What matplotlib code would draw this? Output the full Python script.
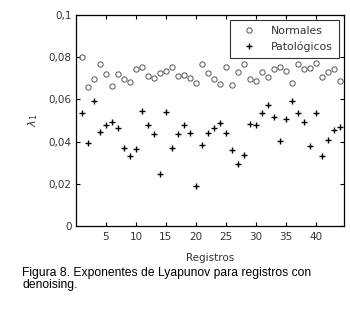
import matplotlib.pyplot as plt
import numpy as np

registros = list(range(1, 45))

normales = [
    0.0802, 0.0657, 0.0697, 0.0765, 0.0722, 0.0665, 0.0722, 0.0695, 0.0682, 0.0743,
    0.0755, 0.0711, 0.0701, 0.0727, 0.0735, 0.0755, 0.0711, 0.0717, 0.0700, 0.0679,
    0.0768, 0.0727, 0.0698, 0.0671, 0.0755, 0.0668, 0.0731, 0.0768, 0.0698, 0.0689,
    0.0729, 0.0706, 0.0743, 0.0755, 0.0735, 0.0676, 0.0766, 0.0743, 0.0747, 0.0771,
    0.0704, 0.0731, 0.0745, 0.0687,
]

patologicos = [
    0.0535, 0.0392, 0.0594, 0.0447, 0.0477, 0.0491, 0.0464, 0.0371, 0.0332, 0.0363,
    0.0545, 0.0477, 0.0434, 0.0245, 0.0542, 0.0371, 0.0434, 0.0479, 0.0439, 0.0191,
    0.0382, 0.0439, 0.0463, 0.0487, 0.0442, 0.0360, 0.0292, 0.0336, 0.0482, 0.0477,
    0.0534, 0.0572, 0.0517, 0.0403, 0.0506, 0.0594, 0.0537, 0.0494, 0.0381, 0.0534,
    0.0332, 0.0408, 0.0455, 0.0471,
]

xticks = [5, 10, 15, 20, 25, 30, 35, 40]
yticks = [0, 0.02, 0.04, 0.06, 0.08, 0.1]
ytick_labels = ["0", "0,02", "0,04", "0,06", "0,08", "0,1"]

fig = plt.figure(figsize=(3.5, 3.1), dpi=100)
ax = fig.add_axes([0.217, 0.271, 0.766, 0.681])

ax.plot(registros, normales, linestyle="none", marker="o", markersize=3.8,
        markerfacecolor="none", markeredgecolor="#555555", markeredgewidth=0.7,
        label="Normales")
ax.plot(registros, patologicos, linestyle="none", marker="+", markersize=5,
        color="black", markeredgewidth=1.0, label="Patológicos")

ax.set_xlim(0, 44.7)
ax.set_ylim(0, 0.1)
ax.set_xticks(xticks)
ax.set_yticks(yticks)
ax.set_yticklabels(ytick_labels)
ax.tick_params(direction="in", top=True, right=True, length=3, width=0.8,
               labelsize=7.5, labelcolor="#333333")
ax.tick_params(axis="x", pad=4.5)
ax.tick_params(axis="y", pad=3)
for s in ax.spines.values():
    s.set_linewidth(0.9)

ax.set_xlabel("Registros", fontsize=7.5, color="#333333", labelpad=8)
ax.set_ylabel(r"$\lambda_1$", fontsize=8, color="#333333", labelpad=6)

leg = ax.legend(loc="upper right", fontsize=7.8, frameon=True, fancybox=False,
                edgecolor="black", borderpad=0.55, handletextpad=0.9,
                handlelength=2.4, labelspacing=0.55, borderaxespad=0.45)
leg.get_frame().set_linewidth(0.8)
for t in leg.get_texts():
    t.set_color("#333333")

fig.text(0.063, 0.1, "Figura 8. Exponentes de Lyapunov para registros con\ndenoising.",
         family="Liberation Sans", fontsize=8.7, va="center", ha="left",
         linespacing=0.92)

fig.savefig("out.png", dpi=100)
